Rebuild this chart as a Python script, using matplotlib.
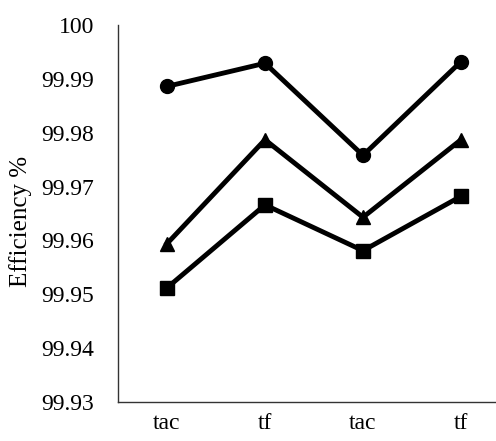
import numpy as np
import matplotlib
matplotlib.use("Agg")
import matplotlib.pyplot as plt

# 数据
categories = ["tac", "tf", "tac", "tf"]
circle_vals = [99.9886, 99.9929, 99.9758, 99.9932]
triangle_vals = [99.9594, 99.9787, 99.9643, 99.9787]
square_vals = [99.9512, 99.9666, 99.9581, 99.9682]
y_ticks = [99.93, 99.94, 99.95, 99.96, 99.97, 99.98, 99.99, 100]
y_tick_labels = ["99.93", "99.94", "99.95", "99.96", "99.97", "99.98", "99.99", "100"]

plt.rcParams['font.family'] = ['Liberation Serif', 'DejaVu Serif']

fig = plt.figure(figsize=(4.96, 4.41), dpi=100)
ax = fig.add_axes([118 / 496, 1 - 402 / 441, 392 / 496, 377 / 441])

x = np.arange(len(categories))
ax.plot(x, circle_vals, color='black', lw=3.5, marker='o', ms=10)
ax.plot(x, triangle_vals, color='black', lw=3.5, marker='^', ms=10)
ax.plot(x, square_vals, color='black', lw=3.5, marker='s', ms=9.5)

ax.set_xlim(-0.5, 3.5)
ax.set_ylim(99.93, 100)
ax.set_xticks(x)
ax.set_xticklabels(categories)
ax.set_yticks(y_ticks)
ax.set_yticklabels(y_tick_labels)
ax.tick_params(length=0, labelsize=17)
ax.tick_params(axis='y', pad=17)
ax.tick_params(axis='x', pad=8)
ax.set_ylabel('Efficiency %', fontsize=18)
ax.yaxis.set_label_coords(-0.219, 0.48)

for side in ['top', 'right']:
    ax.spines[side].set_visible(False)
for side in ['left', 'bottom']:
    ax.spines[side].set_linewidth(1.0)
    ax.spines[side].set_color('#333333')

fig.savefig('out.png', dpi=100)
